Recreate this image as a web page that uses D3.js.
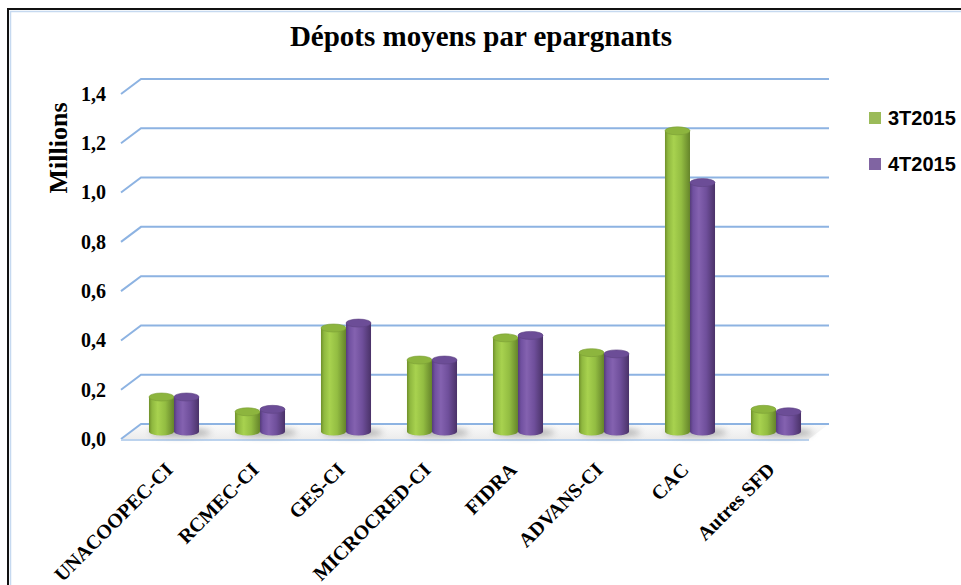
<!DOCTYPE html>
<html>
<head>
<meta charset="utf-8">
<script src="https://cdn.jsdelivr.net/npm/d3@7"></script>
<style>
  body { margin: 0; background: #fff; }
  .tick text { font-family: 'Liberation Serif', 'Times New Roman', serif; font-weight: bold; fill: #000; }
</style>
</head>
<body>
<div id="chart"></div>
<script>
const categories = ['UNACOOPEC-CI', 'RCMEC-CI', 'GES-CI', 'MICROCRED-CI', 'FIDRA', 'ADVANS-CI', 'CAC', 'Autres SFD'];
const series = ['3T2015', '4T2015'];
const values3T = [0.14, 0.08, 0.42, 0.29, 0.38, 0.32, 1.22, 0.09];
const values4T = [0.14, 0.09, 0.44, 0.29, 0.39, 0.315, 1.01, 0.08];
const yTicks = [0, 0.2, 0.4, 0.6, 0.8, 1.0, 1.2, 1.4];

const width = 961;
const height = 585;
const depth = { x: 20, y: -15 }; // back wall offset
const serif = "'Liberation Serif', 'Times New Roman', serif";

const svg = d3.select('#chart')
  .append('svg')
  .attr('width', width)
  .attr('height', height);

const defs = svg.append('defs');

// cylinder gradients
const grads = {
  '3T2015': [['0%', '#6f8f2b'], ['12%', '#8fb83f'], ['35%', '#a8d24f'], ['65%', '#93bd42'], ['100%', '#65842a']],
  '4T2015': [['0%', '#553c7a'], ['12%', '#7050a0'], ['35%', '#8462b0'], ['65%', '#6f4f9b'], ['100%', '#4a3268']]
};
series.forEach((s, i) => {
  const g = defs.append('linearGradient').attr('id', 'cyl' + i);
  grads[s].forEach(st => g.append('stop').attr('offset', st[0]).attr('stop-color', st[1]));
});
const tops = { '3T2015': '#8db53e', '4T2015': '#6c4d97' };
const legendColor = { '3T2015': '#9bbb59', '4T2015': '#8064a2' };

const floorGrad = defs.append('linearGradient').attr('id', 'floor')
  .attr('x1', 0).attr('y1', 1).attr('x2', 0).attr('y2', 0);
floorGrad.append('stop').attr('offset', '0%').attr('stop-color', '#ececec');
floorGrad.append('stop').attr('offset', '100%').attr('stop-color', '#fbfbfb');

defs.append('filter').attr('id', 'blur')
  .attr('x', '-50%').attr('y', '-200%').attr('width', '200%').attr('height', '500%')
  .append('feGaussianBlur').attr('stdDeviation', 3);

// frame
svg.append('rect')
  .attr('x', 8).attr('y', 9)
  .attr('width', 1000).attr('height', 700)
  .attr('fill', 'none')
  .attr('stroke', '#111')
  .attr('stroke-width', 2);
svg.append('path')
  .attr('d', 'M10.5,' + (height + 5) + 'V11.5H' + (width + 5))
  .attr('fill', 'none')
  .attr('stroke', '#c6d9f0')
  .attr('stroke-width', 1.5);

const y = d3.scaleLinear().domain([0, 1.4]).range([439, 94]);

const x0 = d3.scaleBand()
  .domain(categories)
  .range([121, 809])
  .paddingInner(0.418)
  .paddingOuter(0.209);

const x1 = d3.scaleBand()
  .domain(series)
  .range([0, x0.bandwidth()]);

const color = d3.scaleOrdinal().domain(series).range(series.map(s => legendColor[s]));

const fmt = v => d3.format('.1f')(v).replace('.', ',');

// floor
const x0l = x0.range()[0], x0r = x0.range()[1];
svg.append('path')
  .attr('d', `M${x0l},${y(0)}L${x0r},${y(0)}L${x0r + depth.x},${y(0) + depth.y}L${x0l + depth.x},${y(0) + depth.y}Z`)
  .attr('fill', 'url(#floor)');

// gridlines on side wall and back wall
svg.append('g')
  .selectAll('path')
  .data(yTicks)
  .enter()
  .append('path')
  .attr('d', d => `M${x0l},${y(d)}L${x0l + depth.x},${y(d) + depth.y}H${x0r + depth.x}`)
  .attr('fill', 'none')
  .attr('stroke', '#8db3e2')
  .attr('stroke-width', 2);

// front floor edge
svg.append('line')
  .attr('x1', x0l).attr('x2', x0r)
  .attr('y1', y(0) + 1).attr('y2', y(0) + 1)
  .attr('stroke', '#bcd3ee')
  .attr('stroke-width', 2);

const rows = categories.map((c, i) => ({ cat: c, vals: [values3T[i], values4T[i]] }));

// shadows
svg.append('g')
  .selectAll('ellipse')
  .data(rows)
  .enter()
  .append('ellipse')
  .attr('cx', d => x0(d.cat) + depth.x / 2 + x0.bandwidth() * 0.62)
  .attr('cy', y(0) + depth.y / 2 + 1)
  .attr('rx', x0.bandwidth() * 0.62)
  .attr('ry', 4)
  .attr('fill', '#777')
  .attr('opacity', 0.55)
  .attr('filter', 'url(#blur)');

// cylinders
const ry = 4;
const groups = svg.append('g')
  .selectAll('g')
  .data(rows)
  .enter()
  .append('g')
  .attr('transform', d => `translate(${x0(d.cat) + depth.x / 2},${depth.y / 2})`);

const bars = groups.selectAll('g')
  .data(d => d.vals.map((v, i) => ({ key: series[i], idx: i, value: v })))
  .enter()
  .append('g');

bars.append('path')
  .attr('d', d => {
    const x = x1(d.key), w = x1.bandwidth();
    const yt = y(d.value), yb = y(0);
    return `M${x},${yt}L${x},${yb}A${w / 2},${ry} 0 0 0 ${x + w},${yb}L${x + w},${yt}Z`;
  })
  .attr('fill', d => 'url(#cyl' + d.idx + ')');

bars.append('ellipse')
  .attr('cx', d => x1(d.key) + x1.bandwidth() / 2)
  .attr('cy', d => y(d.value))
  .attr('rx', x1.bandwidth() / 2)
  .attr('ry', ry)
  .attr('fill', d => tops[d.key])
  .attr('stroke', d => d3.color(tops[d.key]).darker(0.4))
  .attr('stroke-width', 0.6);

// y axis
const yAxis = svg.append('g')
  .attr('transform', `translate(${x0l},0)`)
  .call(d3.axisLeft(y).tickValues(yTicks).tickFormat(fmt).tickSize(0).tickPadding(15));
yAxis.select('.domain').remove();
yAxis.selectAll('text').style('font-size', '20px');

// x axis labels
const xAxis = svg.append('g')
  .attr('transform', `translate(${depth.x / 2},${y(0)})`)
  .call(d3.axisBottom(x0).tickSize(0));
xAxis.select('.domain').remove();
xAxis.selectAll('text')
  .attr('y', 0)
  .attr('dy', null)
  .attr('transform', 'translate(0,32) rotate(-45)')
  .style('text-anchor', 'end')
  .style('font-size', '20px');

// title
svg.append('text')
  .attr('x', 481)
  .attr('y', 46)
  .attr('text-anchor', 'middle')
  .style('font-family', serif)
  .style('font-weight', 'bold')
  .style('font-size', '29px')
  .text('Dépots moyens par epargnants');

// y label
svg.append('text')
  .attr('transform', 'translate(67,148) rotate(-90)')
  .attr('text-anchor', 'middle')
  .style('font-family', serif)
  .style('font-weight', 'bold')
  .style('font-size', '26px')
  .text('Millions');

// legend
const legend = svg.append('g')
  .selectAll('g')
  .data(series)
  .enter()
  .append('g')
  .attr('transform', (d, i) => `translate(869,${112 + i * 46})`);

legend.append('rect')
  .attr('width', 12)
  .attr('height', 12)
  .attr('fill', d => color(d));

legend.append('text')
  .attr('x', 19)
  .attr('y', 13)
  .style('font-family', "'Liberation Sans', Arial, sans-serif")
  .style('font-weight', 'bold')
  .style('font-size', '20px')
  .text(d => d);
</script>
</body>
</html>
